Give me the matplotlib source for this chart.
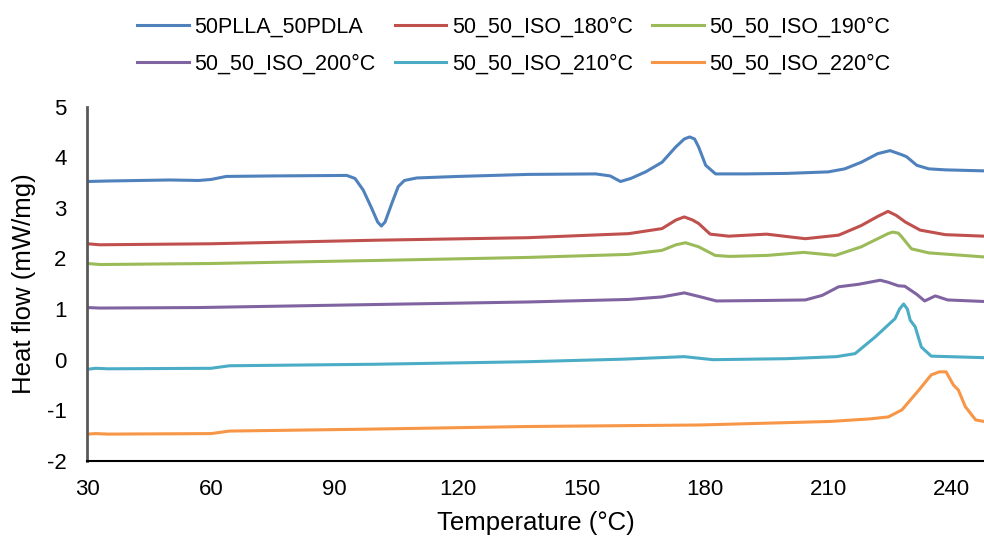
import matplotlib.pyplot as plt

plt.rcParams['font.family'] = ['Liberation Sans', 'DejaVu Sans']
plt.rcParams['axes.unicode_minus'] = False

# Readings: (temperature, heat flow)
t_blue = [30, 35, 50, 57, 60, 63.7, 75, 93, 95, 97, 99, 100.5, 101.4, 102.3, 104, 105.5, 107, 110, 120, 137,
          153.5, 157, 159.5, 162, 165.6, 169.6, 172.9, 175, 176.3, 177.5, 178.5, 180.2, 182.6, 190, 200, 210,
          214, 218, 222, 225, 227.8, 229, 231.5, 234.4, 238.4, 247.8]
hf_blue = [3.52, 3.53, 3.55, 3.54, 3.56, 3.62, 3.63, 3.64, 3.58, 3.35, 3.0, 2.72, 2.64, 2.72, 3.1, 3.42, 3.54,
           3.59, 3.62, 3.66, 3.67, 3.63, 3.52, 3.58, 3.71, 3.90, 4.20, 4.36, 4.40, 4.36, 4.20, 3.84, 3.67, 3.67,
           3.68, 3.71, 3.77, 3.90, 4.07, 4.13, 4.05, 4.01, 3.84, 3.77, 3.75, 3.73]

t_red = [30, 33, 60, 100, 137, 161.5, 169.6, 173, 175, 177, 178.5, 181.3, 185.8, 195, 204.4, 212.5, 218, 222,
         224.5, 226.5, 228.7, 232.3, 238.4, 247.8]
hf_red = [2.29, 2.27, 2.29, 2.36, 2.41, 2.49, 2.59, 2.76, 2.82, 2.76, 2.69, 2.48, 2.44, 2.48, 2.39, 2.46, 2.65,
          2.83, 2.93, 2.85, 2.72, 2.56, 2.47, 2.44]

t_green = [30, 33, 60, 100, 137, 161.5, 169.6, 173, 175.3, 178.5, 182.5, 186, 195.2, 204, 211.7, 218, 222,
           224.5, 225.6, 227, 227.8, 230.2, 234.4, 247.8]
hf_green = [1.90, 1.88, 1.90, 1.96, 2.02, 2.08, 2.16, 2.27, 2.31, 2.23, 2.06, 2.04, 2.06, 2.12, 2.06, 2.23, 2.39,
            2.49, 2.52, 2.50, 2.43, 2.19, 2.11, 2.03]

t_purple = [30, 33, 57, 100, 137, 161.5, 169.6, 175, 179, 182.8, 195, 204.4, 208.5, 212.5, 217.4, 220, 222.6,
            224.5, 227, 228.6, 231.5, 233.4, 236, 239, 247.8]
hf_purple = [1.03, 1.02, 1.03, 1.09, 1.14, 1.19, 1.24, 1.32, 1.24, 1.16, 1.17, 1.18, 1.27, 1.44, 1.49, 1.53, 1.57,
             1.53, 1.46, 1.45, 1.29, 1.16, 1.26, 1.18, 1.15]

t_cyan = [30, 32, 35, 60, 64.5, 100, 137, 160, 175, 182, 200, 212, 216.5, 221.4, 226.2, 227.3, 228.3, 229.2,
          229.9, 231.1, 232.6, 235, 247.8]
hf_cyan = [-0.19, -0.17, -0.18, -0.17, -0.12, -0.09, -0.04, 0.01, 0.06, 0.00, 0.02, 0.06, 0.12, 0.45, 0.81, 1.0,
           1.10, 1.0, 0.78, 0.65, 0.25, 0.07, 0.04]

t_orange = [30, 32, 35, 60, 64.5, 100, 137, 178.7, 210.5, 220, 224.6, 227.9, 232, 235, 237, 238.6, 240.4,
            241.6, 243.3, 245.8, 247.8]
hf_orange = [-1.47, -1.46, -1.47, -1.46, -1.41, -1.37, -1.32, -1.29, -1.22, -1.17, -1.13, -0.99, -0.60, -0.30,
             -0.24, -0.24, -0.50, -0.60, -0.93, -1.19, -1.22]

series = [
    ("50PLLA_50PDLA", t_blue, hf_blue, "#4F81BD"),
    ("50_50_ISO_180°C", t_red, hf_red, "#C0504D"),
    ("50_50_ISO_190°C", t_green, hf_green, "#9BBB59"),
    ("50_50_ISO_200°C", t_purple, hf_purple, "#8064A2"),
    ("50_50_ISO_210°C", t_cyan, hf_cyan, "#4BACC6"),
    ("50_50_ISO_220°C", t_orange, hf_orange, "#F79646"),
]

fig = plt.figure(figsize=(9.84, 5.41), dpi=100)
ax = fig.add_axes([0.0889, 0.148, 0.911, 0.655])

lines = []
for name, t, hf, color in series:
    ln, = ax.plot(t, hf, color=color, lw=2.2, label=name, solid_joinstyle='round')
    lines.append(ln)

ax.set_xlim(30, 247.8)
ax.set_ylim(-2, 5)
ax.set_xticks(range(30, 241, 30))
ax.set_yticks(range(-2, 6))
ax.tick_params(length=0, labelsize=16)
ax.tick_params(axis='x', pad=13)
ax.tick_params(axis='y', pad=15)

for side in ['top', 'right']:
    ax.spines[side].set_visible(False)
ax.spines['left'].set_color('#595959')
ax.spines['left'].set_linewidth(2)
ax.spines['bottom'].set_color('black')
ax.spines['bottom'].set_linewidth(1.5)

ax.set_xlabel("Temperature (°C)", fontsize=18.5, labelpad=8)
ax.set_ylabel("Heat flow (mW/mg)", fontsize=18.5, labelpad=8)

# legend fills column-wise, so reorder to get row-wise reading
order = [0, 3, 1, 4, 2, 5]
fig.legend([lines[i] for i in order], [series[i][0] for i in order],
           loc='upper center', bbox_to_anchor=(0.522, 1.005), ncol=3, frameon=False, fontsize=15.5,
           handlelength=2.4, handletextpad=0.25, columnspacing=0.9, labelspacing=0.75)

plt.savefig("out.png", dpi=100)
